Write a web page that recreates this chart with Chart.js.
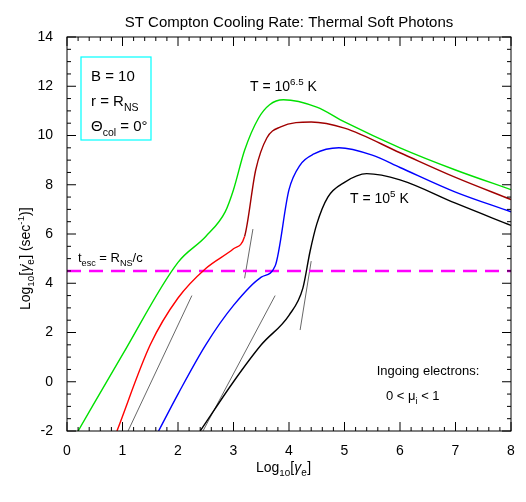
<!DOCTYPE html>
<html><head><meta charset="utf-8">
<script src="https://cdn.jsdelivr.net/npm/chart.js@4"></script>
<style>body{margin:0;background:#fff}#wrap{width:526px;height:502px}</style>
</head><body><div id="wrap"><canvas id="myChart"></canvas></div>
<script>
// log10 gamma_e vs log10 cooling rate
const greenX = [0.2, 1, 2, 2.5, 2.85, 3.0, 3.2, 3.45, 3.65, 3.9, 4.5, 5, 6, 7, 8];
const greenY = [-2, 1.1, 4.85, 5.9, 6.9, 7.8, 9.4, 10.7, 11.25, 11.45, 11.15, 10.55, 9.5, 8.6, 7.8];
const redX = [0.9, 1.5, 2, 2.5, 3, 3.2, 3.4, 3.6, 3.85, 4.4, 5, 6, 7, 8];
const redY = [-2, 1.5, 3.4, 4.6, 5.4, 5.9, 8.6, 9.9, 10.35, 10.55, 10.3, 9.3, 8.3, 7.4];
const blueX = [1.65, 2, 2.5, 3, 3.5, 3.75, 4, 4.2, 4.45, 4.9, 5.5, 6, 7, 8];
const blueY = [-2, -0.5, 1.5, 3.1, 4.25, 4.7, 7.8, 8.8, 9.25, 9.5, 9.2, 8.7, 7.7, 6.9];
const blackX = [2.4, 3, 3.5, 4, 4.25, 4.38, 4.5, 4.7, 5, 5.4, 6, 7, 8];
const blackY = [-2, 0, 1.5, 2.7, 3.8, 5.3, 6.4, 7.5, 8.1, 8.45, 8.2, 7.25, 6.35];
const escY = 4.5;
const guideLines = [
  [[1.1, -2], [2.25, 3.5]],
  [[2.45, -2], [3.75, 3.5]],
  [[3.2, 4.2], [3.35, 6.2]],
  [[4.2, 2.1], [4.4, 4.9]]
];
const xTicks = [0, 1, 2, 3, 4, 5, 6, 7, 8];
const yTicks = [-2, 0, 2, 4, 6, 8, 10, 12, 14];

function pts(xs, ys) { return xs.map((x, i) => ({x: x, y: ys[i]})); }
function curve(xs, ys, color) {
  return {data: pts(xs, ys), borderColor: color, borderWidth: 1.4, pointRadius: 0,
    cubicInterpolationMode: 'monotone', fill: false};
}
const red = curve(redX, redY, '#a00000');
red.segment = {borderColor: c => c.p1.parsed.x <= 3.2 ? '#ff0000' : '#a00000'};
const datasets = [
  curve(greenX, greenY, '#00e000'),
  red,
  curve(blueX, blueY, '#0000ff'),
  curve(blackX, blackY, '#000000'),
  {data: [{x: 0, y: escY}, {x: 8, y: escY}], borderColor: '#ff00ff', borderWidth: 2.5,
    borderDash: [14, 8], pointRadius: 0}
];
guideLines.forEach(l => datasets.push({data: pts([l[0][0], l[1][0]], [l[0][1], l[1][1]]),
  borderColor: '#000', borderWidth: 0.6, pointRadius: 0}));

const F = '"Liberation Sans", sans-serif';
function sub(ctx, base, s, x, y, size, sup) {
  // draws base text followed by a sub/superscript, returns end x
  ctx.font = size + 'px ' + F;
  ctx.fillText(base, x, y);
  let w = ctx.measureText(base).width;
  ctx.font = (size * 0.7) + 'px ' + F;
  ctx.fillText(s, x + w, y + (sup ? -size * 0.4 : size * 0.3));
  return x + w + ctx.measureText(s).width;
}

const decor = {
  id: 'decor',
  afterDraw(chart) {
    const ctx = chart.ctx, a = chart.chartArea, xs = chart.scales.x, ys = chart.scales.y;
    ctx.save();
    ctx.strokeStyle = '#000'; ctx.lineWidth = 1;
    ctx.strokeRect(a.left, a.top, a.right - a.left, a.bottom - a.top);
    ctx.beginPath();
    for (let v = 0; v <= 8.001; v += 0.2) {
      const p = xs.getPixelForValue(v), L = Math.abs(v - Math.round(v)) < 0.01 ? 9 : 4;
      ctx.moveTo(p, a.bottom); ctx.lineTo(p, a.bottom - L);
      ctx.moveTo(p, a.top); ctx.lineTo(p, a.top + L);
    }
    for (let v = -2; v <= 14.001; v += 0.5) {
      const p = ys.getPixelForValue(v), L = Math.abs(v / 2 - Math.round(v / 2)) < 0.01 ? 9 : 4;
      ctx.moveTo(a.left, p); ctx.lineTo(a.left + L, p);
      ctx.moveTo(a.right, p); ctx.lineTo(a.right - L, p);
    }
    ctx.stroke();
    ctx.fillStyle = '#000'; ctx.textBaseline = 'alphabetic';
    ctx.font = '15px ' + F; ctx.textAlign = 'center';
    ctx.fillText('ST Compton Cooling Rate: Thermal Soft Photons', (a.left + a.right) / 2, 27);
    ctx.textAlign = 'left';
    // x title
    let e = sub(ctx, 'Log', '10', 256, 472, 14);
    ctx.font = '14px ' + F; ctx.fillText('[', e, 472); e += ctx.measureText('[').width;
    ctx.font = 'italic 14px ' + F; ctx.fillText('γ', e, 472); e += ctx.measureText('γ').width;
    ctx.font = '10px ' + F; ctx.fillText('e', e, 476); e += 6;
    ctx.font = '14px ' + F; ctx.fillText(']', e, 472);
    // y title
    ctx.save(); ctx.translate(30, 310); ctx.rotate(-Math.PI / 2);
    e = sub(ctx, 'Log', '10', 0, 0, 14);
    ctx.font = '14px ' + F; ctx.fillText('[', e, 0); e += ctx.measureText('[').width;
    ctx.font = 'italic 14px ' + F; ctx.fillText('γ̇', e, 0); e += ctx.measureText('γ').width;
    ctx.font = '10px ' + F; ctx.fillText('e', e, 4); e += 6;
    e = sub(ctx, '] (sec', '-1', e, 0, 14, true);
    ctx.font = '14px ' + F; ctx.fillText(')]', e, 0);
    ctx.restore();
    // parameter box
    ctx.strokeStyle = '#00ffff'; ctx.lineWidth = 1.2;
    ctx.strokeRect(81, 57, 70, 83);
    ctx.fillStyle = '#000'; ctx.font = '15px ' + F;
    ctx.fillText('B = 10', 91, 81);
    e = sub(ctx, 'r = R', 'NS', 91, 106, 15);
    e = sub(ctx, 'Θ', 'col', 91, 131, 15);
    ctx.font = '15px ' + F; ctx.fillText(' = 0°', e, 131);
    // labels
    e = sub(ctx, 'T = 10', '6.5', 250, 91, 14, true);
    ctx.font = '14px ' + F; ctx.fillText(' K', e, 91);
    e = sub(ctx, 'T = 10', '5', 350, 203, 14, true);
    ctx.font = '14px ' + F; ctx.fillText(' K', e, 203);
    e = sub(ctx, 't', 'esc', 78, 262, 13);
    e = sub(ctx, ' = R', 'NS', e, 262, 13);
    ctx.font = '13px ' + F; ctx.fillText('/c', e, 262);
    ctx.textAlign = 'center';
    ctx.font = '13px ' + F; ctx.fillText('Ingoing electrons:', 428, 375);
    ctx.textAlign = 'left';
    e = sub(ctx, '0 < μ', 'i', 386, 400, 13);
    ctx.font = '13px ' + F; ctx.fillText(' < 1', e, 400);
    ctx.restore();
  }
};

new Chart(document.getElementById('myChart'), {
  type: 'line',
  data: {datasets: datasets},
  options: {
    responsive: true, maintainAspectRatio: false, animation: false,
    layout: {padding: {top: 37, right: 15, left: 0, bottom: 0}},
    plugins: {legend: {display: false}, tooltip: {enabled: false}},
    scales: {
      x: {type: 'linear', min: 0, max: 8,
        afterFit: s => { s.height = 71; },
        afterBuildTicks: s => { s.ticks = xTicks.map(v => ({value: v})); },
        grid: {display: false}, border: {display: false},
        ticks: {color: '#000', font: {family: F, size: 14}, padding: 4, maxRotation: 0}},
      y: {min: -2, max: 14,
        afterFit: s => { s.width = 67; },
        afterBuildTicks: s => { s.ticks = yTicks.map(v => ({value: v})); },
        grid: {display: false}, border: {display: false},
        ticks: {color: '#000', font: {family: F, size: 14}, padding: 6}}
    }
  },
  plugins: [decor]
});
</script></body></html>
